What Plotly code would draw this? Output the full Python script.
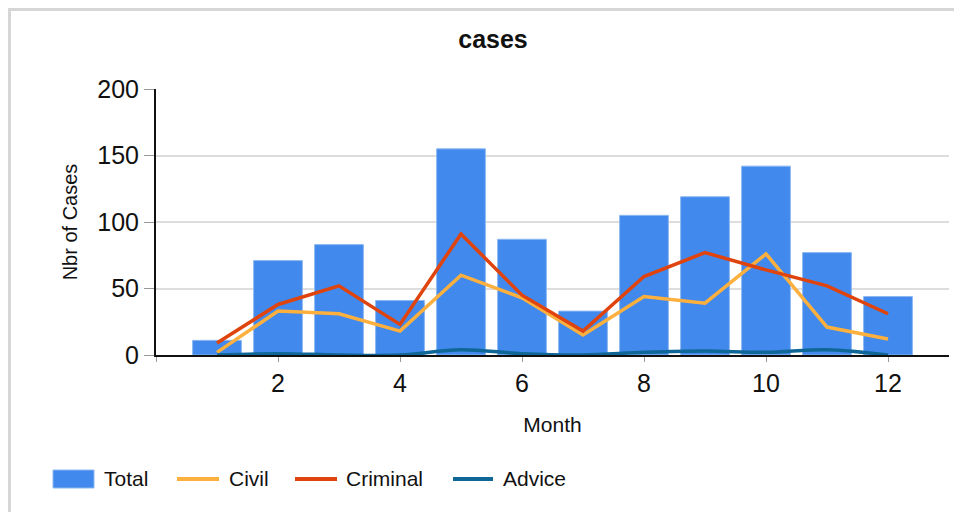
import plotly.graph_objects as go

# ---- data ----
months = [1, 2, 3, 4, 5, 6, 7, 8, 9, 10, 11, 12]
total = [11, 71, 83, 41, 155, 87, 33, 105, 119, 142, 77, 44]
civil = [2, 33, 31, 18, 60, 43, 15, 44, 39, 76, 21, 12]
criminal = [9, 38, 52, 23, 91, 45, 18, 59, 77, 64, 52, 31]
advice = [0, 1, 0, 0, 4, 1, 0, 2, 3, 2, 4, 0]

x_tick_vals = [0, 2, 4, 6, 8, 10, 12]
x_tick_labels = ["", "2", "4", "6", "8", "10", "12"]
y_tick_vals = [0, 50, 100, 150, 200]

colors = {"Total": "#4189EC", "Civil": "#FDB03D", "Criminal": "#E0440E", "Advice": "#0E6797"}

FONT = "Arial, Liberation Sans, sans-serif"

fig = go.Figure()
fig.add_trace(go.Bar(x=months, y=total, name="Total", marker=dict(color=colors["Total"],
                     line=dict(color="#8DB8F3", width=1))))
fig.add_trace(go.Scatter(x=months, y=civil, name="Civil", mode="lines",
                         line=dict(color=colors["Civil"], width=3.5)))
fig.add_trace(go.Scatter(x=months, y=criminal, name="Criminal", mode="lines",
                         line=dict(color=colors["Criminal"], width=3.5)))
fig.add_trace(go.Scatter(x=months, y=advice, name="Advice", mode="lines",
                         line=dict(color=colors["Advice"], width=3.5, shape="spline")))

# page geometry: the figure div sits at an 8px body margin
OFF = 8
FW, FH = 962 - OFF, 512 - OFF
# plot area in page pixels
L, R, T, B = 156, 949, 89, 355
W, H = R - L, B - T


def px(xp):
    return (xp - L) / W


def py(yp):
    return (B - yp) / H


shapes = []
annotations = []

# outer border of the chart card
shapes.append(dict(type="rect", xref="paper", yref="paper",
                   x0=px(9.5), x1=px(980), y0=py(9.5), y1=py(530),
                   line=dict(color="#D6D6D6", width=3), fillcolor="rgba(0,0,0,0)", layer="below"))

# custom legend
leg_y = py(479)
items = [("Total", 53, 94, 104), ("Civil", 177, 219, 229),
         ("Criminal", 295, 337, 346), ("Advice", 453, 493, 503)]
for name, x0, x1, tx in items:
    if name == "Total":
        shapes.append(dict(type="rect", xref="paper", yref="paper",
                           x0=px(x0), x1=px(x1), y0=py(488), y1=py(470),
                           fillcolor=colors[name], line=dict(color="#8DB8F3", width=1)))
    else:
        shapes.append(dict(type="line", xref="paper", yref="paper",
                           x0=px(x0), x1=px(x1), y0=leg_y, y1=leg_y,
                           line=dict(color=colors[name], width=4)))
    annotations.append(dict(text=name, xref="paper", yref="paper", x=px(tx - 2), y=leg_y,
                            xanchor="left", yanchor="middle", showarrow=False,
                            font=dict(family=FONT, size=21, color="#111111")))

fig.update_layout(
    width=FW, height=FH,
    margin=dict(l=L - OFF, r=FW - (R - OFF), t=T - OFF, b=FH - (B - OFF)),
    paper_bgcolor="white", plot_bgcolor="white",
    showlegend=False,
    title=dict(text="<b>cases</b>", x=px(493), xref="paper", xanchor="center",
               y=1 - (39 - OFF) / FH, yanchor="middle",
               font=dict(family=FONT, size=25, color="#111111")),
    bargap=0.2,
    shapes=shapes,
    annotations=annotations,
    font=dict(family=FONT, color="#111111"),
)

fig.update_xaxes(range=[0, 13], tickvals=x_tick_vals, ticktext=x_tick_labels,
                 showgrid=False, zeroline=False,
                 showline=True, linecolor="#111111", linewidth=2,
                 ticks="outside", ticklen=5, tickcolor="#999999", tickwidth=1,
                 tickfont=dict(family=FONT, size=25, color="#111111"),
                 title=dict(text="Month", font=dict(family=FONT, size=21, color="#111111"),
                            standoff=21))
fig.update_yaxes(range=[0, 200], tickvals=y_tick_vals,
                 showgrid=True, gridcolor="#DDDDDD", gridwidth=2, zeroline=False,
                 showline=True, linecolor="#111111", linewidth=2,
                 ticks="outside", ticklen=10, tickcolor="#999999", tickwidth=1,
                 tickfont=dict(family=FONT, size=25, color="#111111"),
                 title=dict(text="Nbr of Cases", font=dict(family=FONT, size=20, color="#111111"),
                            standoff=14))

fig.write_html("out.html")
